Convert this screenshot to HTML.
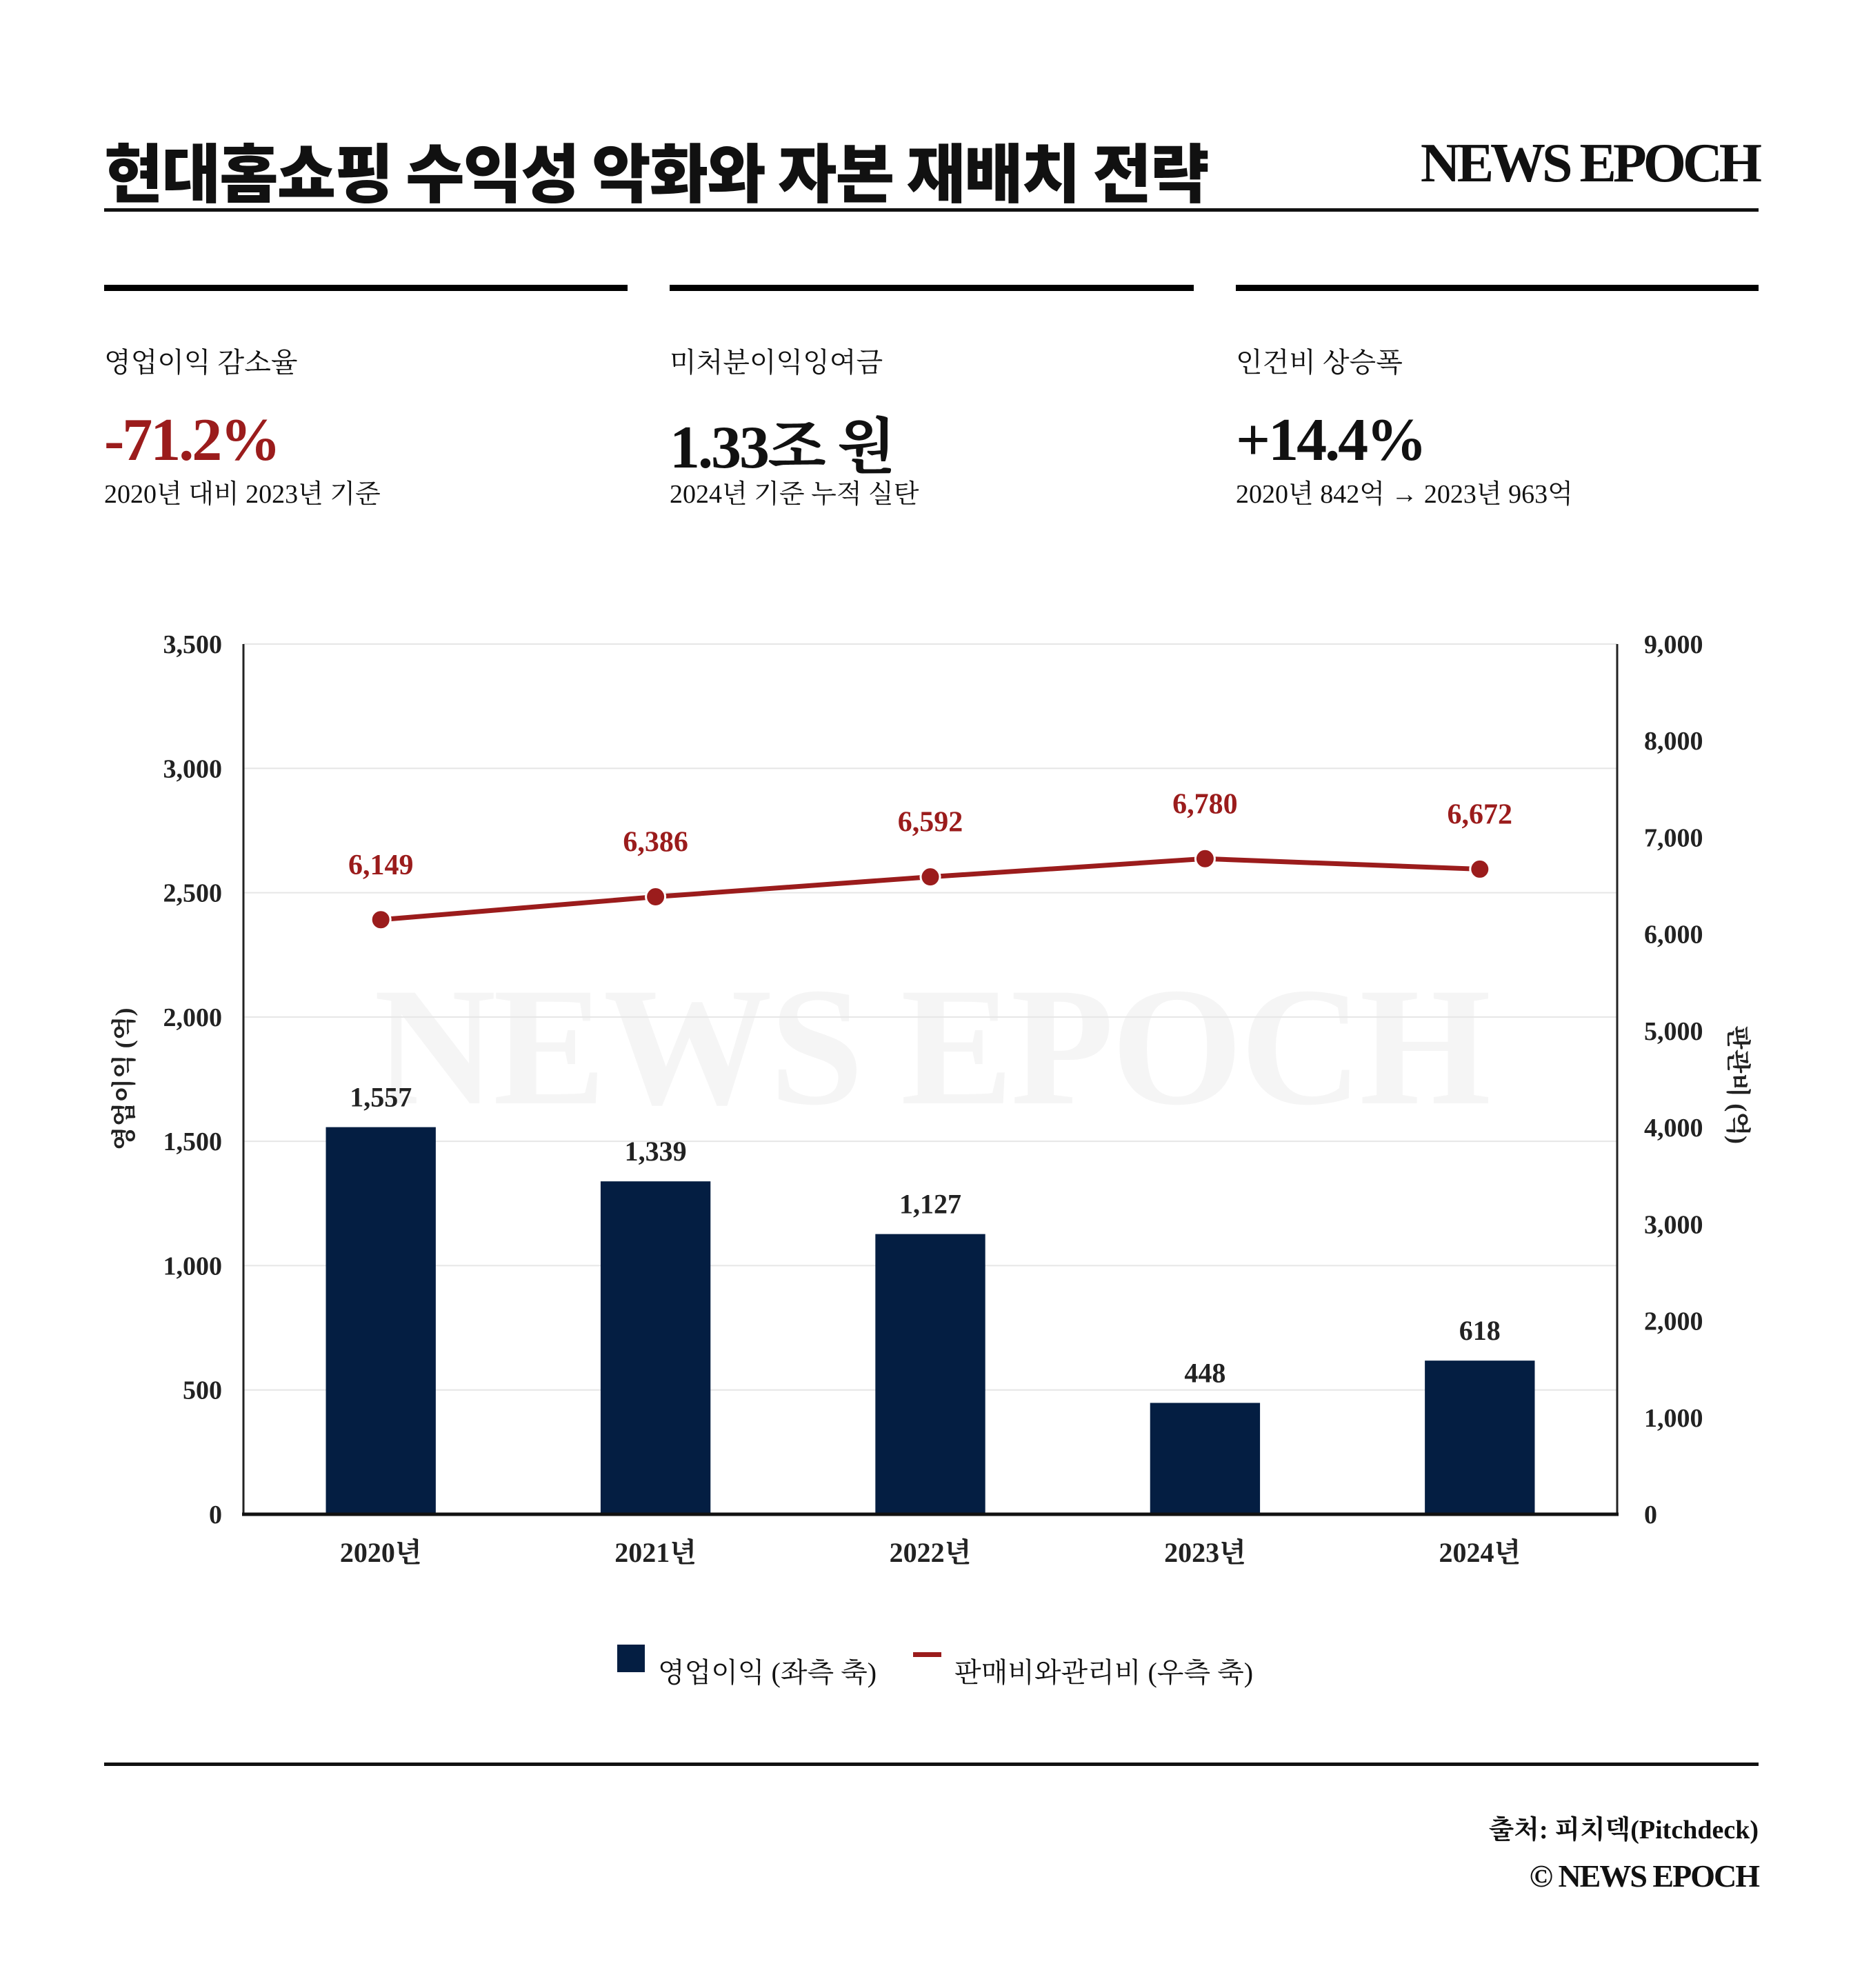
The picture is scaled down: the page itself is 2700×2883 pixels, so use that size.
<!DOCTYPE html>
<html><head><meta charset="utf-8"><style>
body{margin:0;width:2700px;height:2883px;background:#fff;position:relative;overflow:hidden;font-family:"Liberation Serif","Noto Serif CJK KR","Noto Serif CJK SC",serif;color:#111}
.a{position:absolute;white-space:nowrap}
.bar{position:absolute;height:9px;background:#000;top:413px}
.lab{font-size:40px;top:494px}
.big{font-size:88px;font-weight:bold;top:588px;letter-spacing:-3px}
.sub{font-size:38px;top:685px}
</style></head><body>
<div class="a" style="left:151px;top:178px;font-size:93px;font-weight:900;font-family:'Noto Sans CJK KR',sans-serif;letter-spacing:-2px">현대홈쇼핑 수익성 악화와 자본 재배치 전략</div>
<div class="a" style="right:150px;top:192px;font-size:80px;font-weight:bold;letter-spacing:-5px">NEWS EPOCH</div>
<div class="a" style="left:151px;top:302px;width:2399px;height:5px;background:#111"></div>

<div class="bar" style="left:151px;width:759px"></div>
<div class="bar" style="left:971px;width:760px"></div>
<div class="bar" style="left:1792px;width:758px"></div>

<div class="a lab" style="left:151px">영업이익 감소율</div>
<div class="a big" style="left:151px;color:#9b1c1c">-71.2%</div>
<div class="a sub" style="left:151px">2020년 대비 2023년 기준</div>

<div class="a lab" style="left:971px">미처분이익잉여금</div>
<div class="a big" style="left:971px;top:578px">1.33조 원</div>
<div class="a sub" style="left:971px">2024년 기준 누적 실탄</div>

<div class="a lab" style="left:1792px">인건비 상승폭</div>
<div class="a big" style="left:1792px">+14.4%</div>
<div class="a sub" style="left:1792px">2020년 842억 → 2023년 963억</div>

<svg id="chart" class="a" style="left:0;top:0" width="2700" height="2883" font-family="Liberation Serif, Noto Serif CJK KR, serif"></svg>

<div class="a" style="left:895px;top:2385px;width:40px;height:40px;background:#041e42"></div>
<div class="a" style="left:954px;top:2394px;font-size:40px">영업이익 (좌측 축)</div>
<div class="a" style="left:1324px;top:2396px;width:41px;height:7px;background:#9b1c1c"></div>
<div class="a" style="left:1384px;top:2394px;font-size:40px">판매비와관리비 (우측 축)</div>

<div class="a" style="left:151px;top:2556px;width:2399px;height:5px;background:#111"></div>
<div class="a" style="right:150px;top:2622px;font-size:38px;font-weight:bold">출처: 피치덱(Pitchdeck)</div>
<div class="a" style="right:150px;top:2694px;font-size:46px;font-weight:bold;letter-spacing:-2px">© NEWS EPOCH</div>

<script>
const categories=["2020년","2021년","2022년","2023년","2024년"];
const opProfit=[1557,1339,1127,448,618];
const sga=[6149,6386,6592,6780,6672];
const leftTicks=[0,500,1000,1500,2000,2500,3000,3500];
const rightTicks=[0,1000,2000,3000,4000,5000,6000,7000,8000,9000];
const L=353,R=2345,T=934,B=2196,LMAX=3500,RMAX=9000;
const svg=document.getElementById('chart');
const NS='http://www.w3.org/2000/svg';
const band=(R-L)/categories.length;
const xC=i=>L+band*(i+0.5);
const yL=v=>B-(v/LMAX)*(B-T);
const yR=v=>B-(v/RMAX)*(B-T);
function mk(t,a){const e=document.createElementNS(NS,t);for(const k in a)e.setAttribute(k,a[k]);svg.appendChild(e);return e;}
const fmt=v=>v.toLocaleString('en-US');
let wm=mk('text',{x:1352,y:1600,'text-anchor':'middle','font-size':245,'font-weight':'bold',fill:'#f5f5f5','textLength':1620});
wm.textContent='NEWS EPOCH';


leftTicks.forEach(v=>{
  const g=mk('line',{x1:L,x2:R,y1:yL(v),y2:yL(v),stroke:'#e6e6e6','stroke-width':2});
  
  
  const t=mk('text',{x:322,y:yL(v)+13,'text-anchor':'end','font-size':38,'font-weight':'bold',fill:'#222'});
  t.textContent=fmt(v);
  
  
});
rightTicks.forEach(v=>{
  const t=mk('text',{x:2384,y:yR(v)+13,'text-anchor':'start','font-size':38,'font-weight':'bold',fill:'#222'});
  t.textContent=fmt(v);
  
  
});
opProfit.forEach((v,i)=>{
  const w=band*0.4;
  const r=mk('rect',{x:xC(i)-w/2,y:yL(v),width:w,height:B-yL(v),fill:'#041e42'});
  
  
  const t=mk('text',{x:xC(i),y:yL(v)-30,'text-anchor':'middle','font-size':40,'font-weight':'bold',fill:'#222'});
  t.textContent=fmt(v);
  
  
  const c=mk('text',{x:xC(i),y:2265,'text-anchor':'middle','font-size':40,'font-weight':'bold',fill:'#222'});
  c.textContent=categories[i];
  
  
});
const ax=mk('line',{x1:L,x2:L,y1:T,y2:B,stroke:'#222','stroke-width':3});


const ax2=mk('line',{x1:R,x2:R,y1:T,y2:B,stroke:'#222','stroke-width':3});


const ax3=mk('line',{x1:L-2,x2:R+2,y1:B,y2:B,stroke:'#111','stroke-width':5});


const pl=mk('polyline',{points:sga.map((v,i)=>xC(i)+','+yR(v)).join(' '),fill:'none',stroke:'#9b1c1c','stroke-width':7});


sga.forEach((v,i)=>{
  const c=mk('circle',{cx:xC(i),cy:yR(v),r:14,fill:'#9b1c1c',stroke:'#fff','stroke-width':3});
  
  
  const t=mk('text',{x:xC(i),y:yR(v)-66,'text-anchor':'middle','font-size':42,'font-weight':'bold',fill:'#9b1c1c'});
  t.textContent=fmt(v);
  
  
});
const yt=mk('text',{x:0,y:0,transform:'translate(192,1565) rotate(-90)','text-anchor':'middle','font-size':36,'font-weight':'bold',fill:'#222'});
yt.textContent='영업이익 (억)';


const yt2=mk('text',{x:0,y:0,transform:'translate(2508,1573) rotate(90)','text-anchor':'middle','font-size':36,'font-weight':'bold',fill:'#222'});
yt2.textContent='판관비 (억)';


</script>
</body></html>
